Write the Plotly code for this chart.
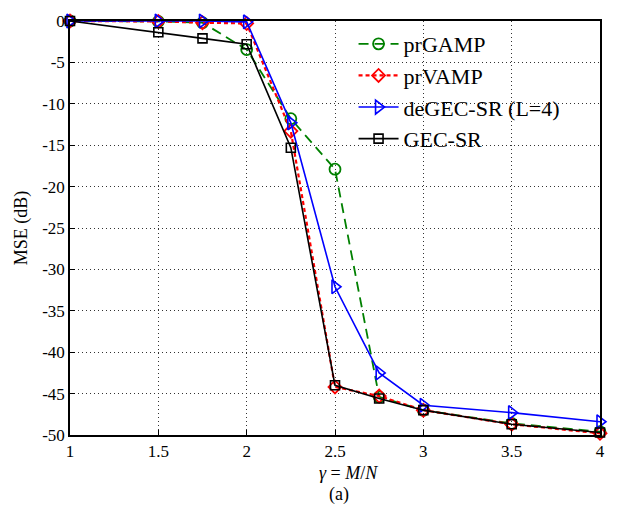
import plotly.graph_objects as go

x_vals = [1, 1.5, 1.75, 2, 2.25, 2.5, 2.75, 3, 3.5, 4]
prgamp = [0, -0.05, -0.2, -3.45, -11.8, -17.9, -45.4, -47.0, -48.6, -49.6]
prvamp = [0, -0.05, -0.2, -0.3, -13.3, -44.2, -45.3, -47.0, -48.7, -49.8]
degec = [0, 0, 0, -0.1, -12.3, -32.1, -42.5, -46.4, -47.3, -48.4]
gecsr = [0, -1.35, -2.1, -2.8, -15.3, -44.0, -45.6, -47.0, -48.7, -49.7]

y_ticks = [0, -5, -10, -15, -20, -25, -30, -35, -40, -45, -50]
y_ticktext = [str(v) for v in y_ticks]
x_ticks = [1, 1.5, 2, 2.5, 3, 3.5, 4]
x_ticktext = ["1", "1.5", "2", "2.5", "3", "3.5", "4"]

font_family = "Liberation Serif"

fig = go.Figure()
fig.add_trace(go.Scatter(x=x_vals, y=prgamp, name="prGAMP", mode="lines+markers",
                         line=dict(color="#008000", width=1.8, dash="10px,6px"),
                         marker=dict(symbol="circle-open", size=11, color="#008000", line=dict(width=1.8)),
                         cliponaxis=False))
fig.add_trace(go.Scatter(x=x_vals, y=prvamp, name="prVAMP", mode="lines+markers",
                         line=dict(color="#ff0000", width=2.2, dash="4px,3px"),
                         marker=dict(symbol="diamond-open", size=10, color="#ff0000", line=dict(width=1.8)),
                         cliponaxis=False))
fig.add_trace(go.Scatter(x=x_vals, y=degec, name="deGEC-SR (L=4)", mode="lines+markers",
                         line=dict(color="#0000ff", width=1.6),
                         marker=dict(symbol="triangle-right-open", size=12, color="#0000ff", line=dict(width=1.6)),
                         cliponaxis=False))
fig.add_trace(go.Scatter(x=x_vals, y=gecsr, name="GEC-SR", mode="lines+markers",
                         line=dict(color="#000000", width=1.6),
                         marker=dict(symbol="square-open", size=9, color="#000000", line=dict(width=1.6)),
                         cliponaxis=False))

axis_common = dict(
    showline=True, linecolor="black", linewidth=1.5, mirror=True,
    ticks="inside", ticklen=5, tickcolor="black",
    showgrid=True, gridcolor="#333333", gridwidth=1, griddash="1px,3px",
    zeroline=False,
    tickfont=dict(family=font_family, size=17, color="black"),
)

fig.update_layout(
    width=617, height=514,
    margin=dict(l=70, r=15, t=15, b=79),
    plot_bgcolor="white", paper_bgcolor="white",
    font=dict(family=font_family, color="black"),
    xaxis=dict(range=[1, 4], tickvals=x_ticks, ticktext=x_ticktext, **axis_common),
    yaxis=dict(range=[-50, 0], tickvals=y_ticks, ticktext=y_ticktext,
               title=dict(text="MSE (dB)", font=dict(family=font_family, size=18), standoff=10),
               **axis_common),
    legend=dict(x=0.535, y=0.995, xanchor="left", yanchor="top",
                bgcolor="rgba(255,255,255,0)", borderwidth=0,
                font=dict(family=font_family, size=22, color="black"),
                itemwidth=40, tracegroupgap=0),
    showlegend=True,
    annotations=[
        dict(text="<i>γ</i> = <i>M</i>/<i>N</i>", xref="paper", yref="paper",
             x=(350 - 70) / 532, y=-(474 - 435) / 420, xanchor="center", yanchor="middle",
             showarrow=False, font=dict(family=font_family, size=18, color="black")),
        dict(text="(a)", xref="paper", yref="paper",
             x=(340 - 70) / 532, y=-(495 - 435) / 420, xanchor="center", yanchor="middle",
             showarrow=False, font=dict(family=font_family, size=18, color="black")),
    ],
)

fig.write_html("out.html")
